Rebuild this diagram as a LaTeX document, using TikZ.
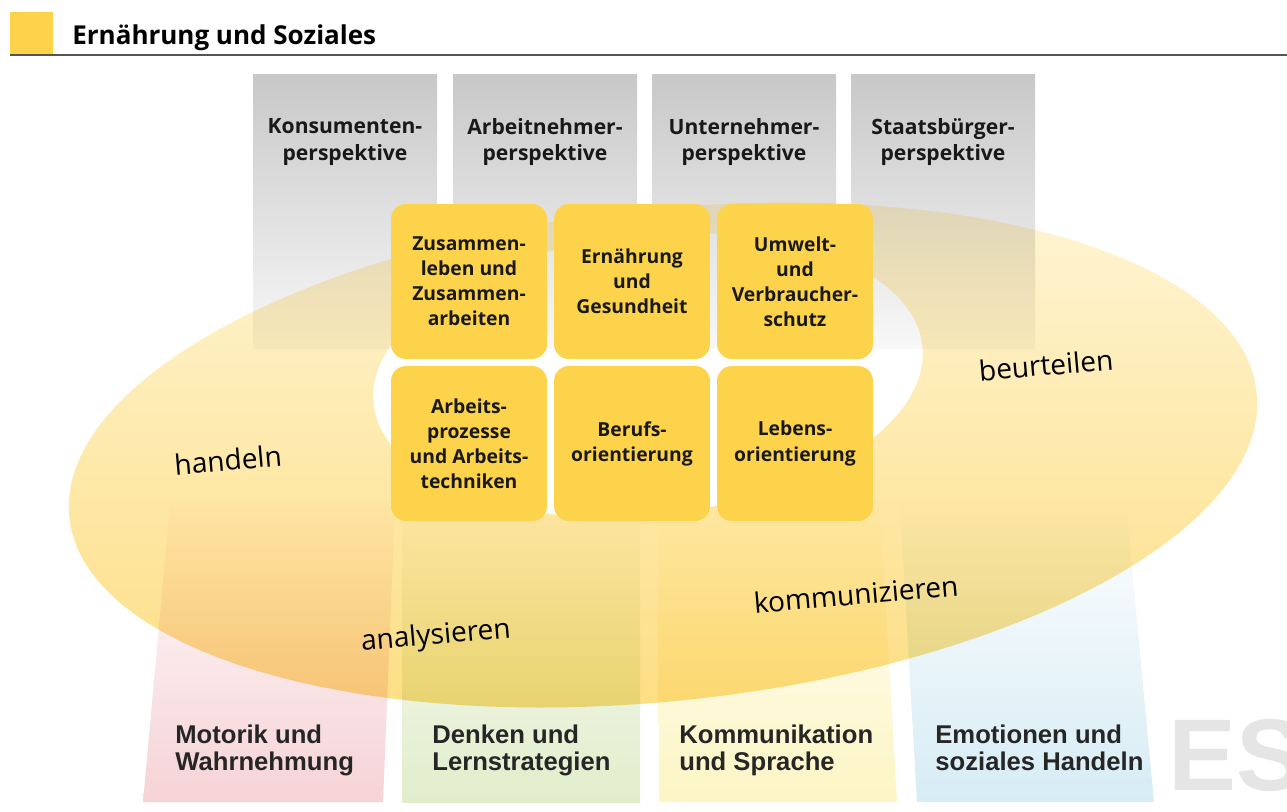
\documentclass[tikz,border=0pt]{standalone}
\usepackage{fontspec}
\setmainfont{Open Sans}
\newfontfamily\arialfont{Liberation Sans}
\definecolor{esyellow}{HTML}{FDD34C}
\definecolor{colgray}{HTML}{C8C8C8}
\definecolor{colgraylight}{HTML}{F8F8F8}
\definecolor{ringtop}{HTML}{FFF6D8}
\definecolor{ringbottom}{HTML}{FDDD80}
\definecolor{pinkarea}{HTML}{F6D3D6}
\definecolor{greenarea}{HTML}{E1EDCB}
\definecolor{yellowarea}{HTML}{FDF5C4}
\definecolor{bluearea}{HTML}{D7ECF5}
\definecolor{watermark}{HTML}{E5E5E5}
\definecolor{headrule}{HTML}{555555}
\begin{document}
\begin{tikzpicture}[x=0.02cm, y=-0.02cm,
    persp/.style={inner sep=0pt, align=center, text=black!90, font=\bfseries\fontsize{12}{15.3}\selectfont},
    themebox/.style={fill=esyellow, rounded corners=0.3cm, minimum width=3.12cm, minimum height=3.1cm,
      inner sep=1pt, align=center, text=black!90, font=\bfseries\fontsize{11}{14.3}\selectfont},
    skill/.style={rotate=5, inner sep=0pt, font=\fontsize{16}{18}\selectfont},
    area/.style={anchor=north west, inner sep=0pt, align=left, text=black!85,
      font=\arialfont\bfseries\fontsize{14.6}{14.9}\selectfont}]
    \useasboundingbox[fill=white] (0,0) rectangle (1287,811);
    % Kopfzeile
    \fill[esyellow] (10,12) rectangle (53,54);
    \draw[headrule, line width=0.7pt] (10,55) -- (1287,55);
    \node[anchor=base west, inner sep=0pt, font=\bfseries\fontsize{14.8}{17}\selectfont] (title) at (72,45) {Ernährung und Soziales};
    % Perspektiven (graue Saeulen)
    \foreach \cx/\nm/\first in {253/kons/Konsumenten, 453/arbn/Arbeitnehmer, 652/untn/Unternehmer, 851/stbg/Staatsbürger}{
        \path[shade, top color=colgray, bottom color=colgraylight] (\cx,75) rectangle ++(184,273);
        \node[persp] (\nm) at ({\cx+92},142) {\first-\\perspektive};
    }
    % Entwicklungsbereiche (farbige Saeulen unten)
    \path[shade, top color=pinkarea!5!white, bottom color=pinkarea] (170,505) -- (395,505) -- (383,802) -- (143,802) -- cycle;
    \path[shade, top color=greenarea!5!white, bottom color=greenarea] (402,505) -- (640,505) -- (640,802) -- (402,802) -- cycle;
    \path[shade, top color=yellowarea!5!white, bottom color=yellowarea] (658,505) -- (880,505) -- (897,802) -- (659,802) -- cycle;
    \path[shade, top color=bluearea!5!white, bottom color=bluearea] (900,505) -- (1126,505) -- (1154,802) -- (917,802) -- cycle;
    % Ring der Kompetenzen
    \begin{scope}[shift={(663,455)}, rotate=6]
        \path[even odd rule, blend mode=multiply, shade, top color=ringtop, bottom color=ringbottom]
            (0,0) ellipse [x radius=11.94cm, y radius=4.92cm]
            (-6.6,-81.1) ellipse [x radius=5.52cm, y radius=2.8cm];
    \end{scope}
    % Inhaltsfelder
    \node[themebox] (zus) at (469,281.5) {Zusammen-\\leben und\\Zusammen-\\arbeiten};
    \node[themebox] (ern) at (632,281.5) {Ernährung\\und\\Gesundheit};
    \node[themebox] (umw) at (795,281.5) {Umwelt-\\und\\Verbraucher-\\schutz};
    \node[themebox] (arb) at (469,443.5) {Arbeits-\\prozesse\\und Arbeits-\\techniken};
    \node[themebox] (ber) at (632,443.5) {Berufs-\\orientierung};
    \node[themebox] (leb) at (795,443.5) {Lebens-\\orientierung};
    % Kompetenzen
    \node[skill] (handeln) at (228,460) {handeln};
    \node[skill] (beurteilen) at (1046,365) {beurteilen};
    \node[skill] (analysieren) at (436,637) {analysieren};
    \node[skill] (kommunizieren) at (856,594) {kommunizieren};
    % Bereiche unten
    \node[area] (motorik) at (175,725) {Motorik und\\Wahrnehmung};
    \node[area] (denken) at (432,725) {Denken und\\Lernstrategien};
    \node[area] (sprache) at (679,725) {Kommunikation\\und Sprache};
    \node[area] (emotion) at (935,725) {Emotionen und\\soziales Handeln};
    \node[anchor=base west, inner sep=0pt, text=watermark, font=\arialfont\bfseries\fontsize{58}{58}\selectfont] (es) at (1168,790) {ES};
\end{tikzpicture}
\end{document}
